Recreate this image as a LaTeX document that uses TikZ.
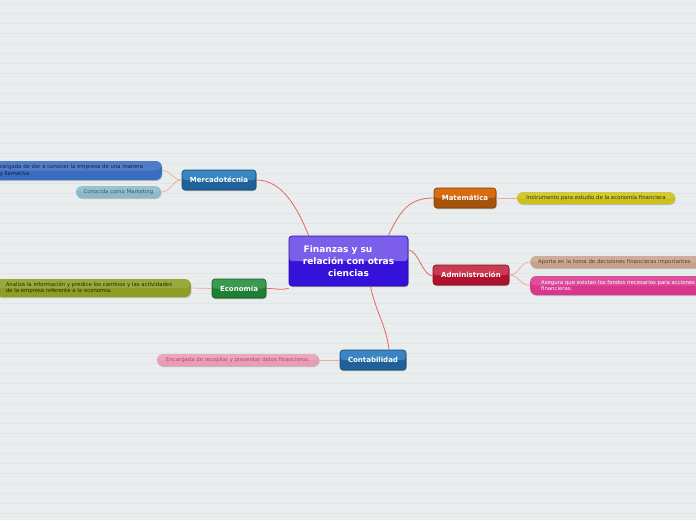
\documentclass[tikz,border=0pt]{standalone}
\usepackage{fontspec}
\setmainfont{DejaVu Sans}
\usetikzlibrary{shadows}
\definecolor{bg}{HTML}{E9EDEE}
\definecolor{bgline}{HTML}{E0E5E7}
\definecolor{conn}{HTML}{E8665A}
\definecolor{lconn}{HTML}{F0A89C}
\definecolor{cpurple}{HTML}{3412DA}
\definecolor{cpurpletop}{HTML}{7B5EEA}
\definecolor{cblue}{HTML}{1F6198}
\definecolor{cbluetop}{HTML}{3A86C2}
\definecolor{cgreen}{HTML}{1E7E34}
\definecolor{cgreentop}{HTML}{3C9A50}
\definecolor{corange}{HTML}{A5520A}
\definecolor{corangetop}{HTML}{DA6C10}
\definecolor{cred}{HTML}{B0122E}
\definecolor{credtop}{HTML}{CC3A52}
\definecolor{lblue}{HTML}{3A6CC0}
\definecolor{lbluetext}{HTML}{14223F}
\definecolor{lteal}{HTML}{8ABACA}
\definecolor{ltealtext}{HTML}{2F5561}
\definecolor{lolive}{HTML}{8C9F22}
\definecolor{lolivetext}{HTML}{252B00}
\definecolor{lpink}{HTML}{E89CB6}
\definecolor{lpinktext}{HTML}{C23E6E}
\definecolor{lyellow}{HTML}{CDC11C}
\definecolor{lyellowtext}{HTML}{363400}
\definecolor{ltan}{HTML}{C7A38D}
\definecolor{ltantext}{HTML}{5A3A28}
\definecolor{lmagenta}{HTML}{D8378D}
\tikzset{
  mainbox/.style n args={2}{draw=#1!75!black, line width=0.6pt, rounded corners=3pt,
    fill=#1, text=white, font=\bfseries\fontsize{7}{8.5}\selectfont,
    inner sep=0pt, minimum height=20pt,
    drop shadow={shadow xshift=0.6pt, shadow yshift=-1pt, opacity=0.25, fill=black},
    path picture={\fill[#2] (path picture bounding box.north west) rectangle (path picture bounding box.east);}},
  leaf/.style={rounded corners=6pt, fill=#1, inner ysep=0pt, minimum height=12pt,
    font=\fontsize{5.35}{6.6}\selectfont,
    drop shadow={shadow xshift=0.6pt, shadow yshift=-1pt, opacity=0.2, fill=black},
    path picture={\fill[white,opacity=0.12] (path picture bounding box.north west) rectangle (path picture bounding box.east);}},
  mainconn/.style={draw=conn, line width=0.8pt},
  leafconn/.style={draw=lconn, line width=0.7pt},
}
\begin{document}
\begin{tikzpicture}[x=1pt,y=-1pt]
\useasboundingbox (0,0) rectangle (696,520);
\clip (0,0) rectangle (696,520);
\fill[bg] (0,0) rectangle (696,520);
\foreach \yy in {3,13,...,520} \draw[bgline, line width=0.8pt] (0,\yy) -- (696,\yy);

% central
\node[mainbox={cpurple}{cpurpletop}, minimum width=119pt, minimum height=50pt, align=center,
  font=\bfseries\fontsize{9}{12}\selectfont] (c) at (348.5,261)
  {Finanzas y su\hspace*{21pt}\\relación con otras\\ciencias};

% main nodes
\node[mainbox={cblue}{cbluetop}, minimum width=74pt] (merc) at (219,180) {Mercadotécnia};
\node[mainbox={cgreen}{cgreentop}, minimum width=54pt, minimum height=19pt] (eco) at (239,288.5) {Economía};
\node[mainbox={cblue}{cbluetop}, minimum width=66pt] (cont) at (373,360) {Contabilidad};
\node[mainbox={corange}{corangetop}, minimum width=62pt] (mat) at (465,198) {Matemática};
\node[mainbox={cred}{credtop}, minimum width=76pt] (adm) at (471,275) {Administración};

% leaves
\node[leaf=lblue, text=lbluetext, anchor=east, text width=156pt, inner xsep=6pt, align=left, minimum height=19pt] (m1) at (162,170.5)
  {cargada de dar a conocer la empresa de una manera\\y llamativa.};
\node[leaf=lteal, text=ltealtext, minimum width=85pt, inner xsep=0pt] (m2) at (118.5,192) {Conocida como Marketing};
\node[leaf=lolive, text=lolivetext, anchor=east, text width=175pt, inner xsep=10pt, align=left, minimum height=18pt] (e1) at (191,288)
  {Analiza la información y predice los cambios y las actividades\\de la empresa referente a la economía.};
\node[leaf=lpink, text=lpinktext, minimum width=162pt, inner xsep=0pt] (k1) at (238,360) {Encargada de recopilar y presentar datos financieros.};
\node[leaf=lyellow, text=lyellowtext, minimum width=158pt, inner xsep=0pt] (t1) at (596,198) {Instrumento para estudio de la economía financiera};
\node[leaf=ltan, text=ltantext, anchor=west, text width=170pt, inner xsep=8pt, align=left] (a1) at (530,262) {Aporta en la toma de decisiones financieras importantes};
\node[leaf=lmagenta, text=white, anchor=west, text width=170pt, inner xsep=11pt, align=left, minimum height=19pt] (a2) at (530,285.5)
  {Asegura que existan los fondos necesarios para acciones\\financieras.};

% main connectors
\draw[mainconn] ([xshift=20pt]c.north west) .. controls +(-12,-30) and +(25,0) .. (merc.east);
\draw[mainconn] ([xshift=-20pt]c.north east) .. controls +(12,-25) and +(-25,0) .. (mat.west);
\draw[mainconn] ([yshift=11pt]c.east) .. controls +(10,0) and +(-10,0) .. ([yshift=-1pt]adm.west);
\draw[mainconn] ([yshift=-2pt]c.south west) .. controls +(-8,2) and +(10,0) .. (eco.east);
\draw[mainconn] ([xshift=22pt]c.south) .. controls +(5,25) and +(-3,-25) .. ([xshift=16pt]cont.north);

% leaf connectors
\draw[leafconn] (merc.west) .. controls +(-10,0) and +(10,0) .. (m1.east);
\draw[leafconn] (merc.west) .. controls +(-10,0) and +(10,0) .. (m2.east);
\draw[leafconn] (eco.west) -- (e1.east);
\draw[leafconn] (cont.west) -- (k1.east);
\draw[leafconn] (mat.east) -- (t1.west);
\draw[leafconn] (adm.east) .. controls +(10,0) and +(-10,0) .. (a1.west);
\draw[leafconn] (adm.east) .. controls +(10,0) and +(-10,0) .. (a2.west);
\end{tikzpicture}
\end{document}
